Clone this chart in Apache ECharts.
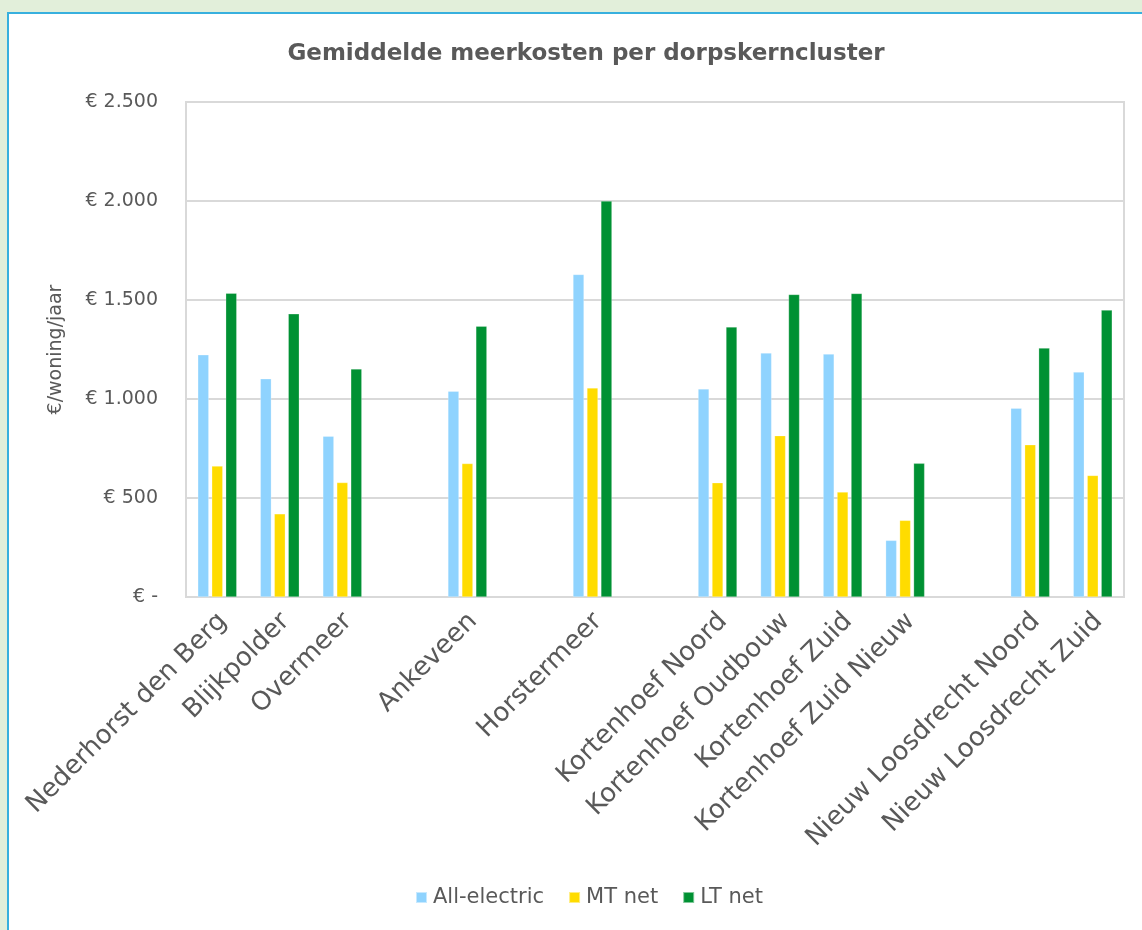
<!DOCTYPE html>
<html>
<head>
<meta charset="utf-8">
<script src="https://cdn.jsdelivr.net/npm/echarts@6/dist/echarts.min.js"></script>
<style>
  html, body { margin: 0; padding: 0; background: #e2efda; overflow: hidden; }
  #frame { position: absolute; left: 7px; top: 12px; width: 1200px; height: 1000px; background: #ffffff; border-left: 2px solid #38b0de; border-top: 2px solid #38b0de; }
  #chart { position: absolute; left: 0; top: 0; width: 1142px; height: 930px; }
</style>
</head>
<body>
<div id="frame"></div>
<div id="chart"></div>
<script>
// Categories (empty strings are the gaps between clusters)
const categories = [
  'Nederhorst den Berg', 'Blijkpolder', 'Overmeer', '',
  'Ankeveen', '', 'Horstermeer', '',
  'Kortenhoef Noord', 'Kortenhoef Oudbouw', 'Kortenhoef Zuid', 'Kortenhoef Zuid Nieuw', '',
  'Nieuw Loosdrecht Noord', 'Nieuw Loosdrecht Zuid'
];
const allElectric = [1223, 1102, 812, null, 1039, null, 1629, null, 1051, 1232, 1227, 286, null, 953, 1136];
const mtNet       = [661, 420, 578, null, 674, null, 1056, null, 577, 815, 530, 387, null, 769, 614];
const ltNet       = [1534, 1430, 1152, null, 1368, null, 2000, null, 1364, 1528, 1533, 675, null, 1257, 1449];
const yTickLabels = ['€ -', '€ 500', '€ 1.000', '€ 1.500', '€ 2.000', '€ 2.500'];
const seriesNames = ['All-electric', 'MT net', 'LT net'];

const textColor = '#595959';
const font = 'DejaVu Sans';

const chart = echarts.init(document.getElementById('chart'), null, { renderer: 'canvas' });
const barStyle = (color) => ({ color: color, borderColor: 'rgba(255,255,255,0.5)', borderWidth: 0.5 });

chart.setOption({
  backgroundColor: 'transparent',
  animation: false,
  title: {
    text: 'Gemiddelde meerkosten per dorpskerncluster',
    left: 581, top: 38, textAlign: 'center',
    textStyle: { color: textColor, fontFamily: font, fontSize: 23, fontWeight: 'bold' }
  },
  legend: {
    data: seriesNames,
    left: 410, top: 882,
    icon: 'rect', itemWidth: 11, itemHeight: 11, itemGap: 24,
    textStyle: { color: textColor, fontFamily: font, fontSize: 21, padding: [0, 0, 0, 1] }
  },
  grid: {
    left: 186, top: 102, right: 18, bottom: 333,
    show: true, borderColor: '#d9d9d9', borderWidth: 2, containLabel: false
  },
  xAxis: {
    type: 'category',
    data: categories,
    axisLine: { show: true, lineStyle: { color: '#d9d9d9', width: 2 } },
    axisTick: { show: false },
    axisLabel: {
      rotate: 45, interval: 0, margin: 26,
      color: textColor, fontFamily: font, fontSize: 26,
      padding: [0, -8, 0, 0]
    }
  },
  yAxis: {
    type: 'value',
    min: 0, max: 2500, interval: 500,
    name: '€/woning/jaar',
    nameLocation: 'middle', nameGap: 120, nameRotate: 90,
    nameTextStyle: { color: textColor, fontFamily: font, fontSize: 19 },
    axisLine: { show: false },
    axisTick: { show: false },
    splitLine: { lineStyle: { color: '#d9d9d9', width: 2 } },
    axisLabel: {
      margin: 28,
      color: textColor, fontFamily: font, fontSize: 19,
      formatter: (v) => yTickLabels[Math.round(v / 500)]
    }
  },
  series: [
    { name: seriesNames[0], type: 'bar', data: allElectric, barWidth: 11, barGap: '27%', itemStyle: barStyle('#8fd3fe') },
    { name: seriesNames[1], type: 'bar', data: mtNet, barWidth: 11, barGap: '27%', itemStyle: barStyle('#ffdc00') },
    { name: seriesNames[2], type: 'bar', data: ltNet, barWidth: 11, barGap: '27%', itemStyle: barStyle('#009133') }
  ]
});
</script>
</body>
</html>
